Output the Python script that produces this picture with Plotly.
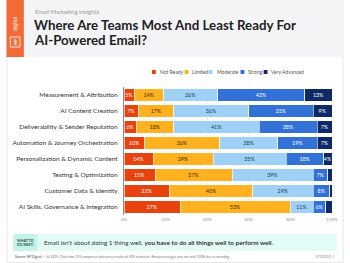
import plotly.graph_objects as go

categories = [
    "Measurement & Attribution",
    "AI Content Creation",
    "Deliverability & Sender Reputation",
    "Automation & Journey Orchestration",
    "Personalization & Dynamic Content",
    "Testing & Optimization",
    "Customer Data & Identity",
    "AI Skills, Governance & Integration",
]
series_names = ["Not Ready", "Limited", "Moderate", "Strong", "Very Advanced"]
not_ready = [5, 7, 6, 10, 14, 15, 22, 27]
limited = [14, 17, 18, 36, 29, 37, 40, 53]
moderate = [26, 36, 41, 28, 35, 39, 29, 11]
strong = [42, 31, 28, 19, 18, 7, 8, 6]
very_advanced = [13, 9, 7, 7, 4, 2, 1, 3]
x_ticks = [0, 20, 40, 60, 80, 100]
x_tick_labels = ["0%", "20%", "40%", "60%", "80%", "100%"]

series_values = [not_ready, limited, moderate, strong, very_advanced]
colors = ["#e8430f", "#ffb11f", "#9fd0f5", "#3272d6", "#0e2a66"]
text_colors = ["white", "#3a2a00", "#1d3550", "white", "white"]

W, H = 350, 263
L, R, T, B = 122, 338, 87, 215


def xp(px):
    return (px - L) / (R - L)


def yp(py):
    return (B - py) / (B - T)


FONT = "Lato"
fig = go.Figure()
for name, vals, col, tcol in zip(series_names, series_values, colors, text_colors):
    fig.add_trace(go.Bar(
        y=categories, x=vals, name=name, orientation="h",
        marker=dict(color=col, line=dict(color="white", width=0.6)),
        text=[f"{v}%" if v >= 4 else "" for v in vals],
        textposition="inside", insidetextanchor="middle", textangle=0,
        textfont=dict(size=5.3, color=tcol, family=FONT),
        showlegend=False, hoverinfo="skip",
    ))

shapes = []
annotations = []
# outer border
shapes.append(dict(type="rect", xref="paper", yref="paper", x0=xp(0.5), x1=xp(349.5),
                   y0=yp(0.5), y1=yp(262.5), line=dict(color="#e6e6e6", width=1), layer="below"))
# header background
shapes.append(dict(type="rect", xref="paper", yref="paper", x0=xp(0), x1=xp(350),
                   y0=yp(0), y1=yp(57), fillcolor="#f4f4f6", line=dict(width=0), layer="below"))
# orange strip
shapes.append(dict(type="rect", xref="paper", yref="paper", x0=xp(0), x1=xp(18),
                   y0=yp(0), y1=yp(57), fillcolor="#f26a36", line=dict(width=0), layer="below"))
shapes.append(dict(type="rect", xref="paper", yref="paper", x0=xp(4), x1=xp(14),
                   y0=yp(37), y1=yp(47), fillcolor="rgba(0,0,0,0)", line=dict(color="white", width=0.8)))
annotations.append(dict(x=xp(9), y=yp(42), xref="paper", yref="paper", text="<b>NP</b>",
                        showarrow=False, textangle=-90, xanchor="center", yanchor="middle",
                        font=dict(size=4.5, color="white", family=FONT)))
annotations.append(dict(x=xp(9), y=yp(24), xref="paper", yref="paper", text="digital",
                        showarrow=False, textangle=-90, xanchor="center", yanchor="middle",
                        font=dict(size=5.5, color="white", family=FONT)))
# subtitle and title
annotations.append(dict(x=xp(27), y=yp(11), xref="paper", yref="paper", text="Email Marketing Insights",
                        showarrow=False, xanchor="left", yanchor="middle",
                        font=dict(size=6, color="#9a9a9a", family=FONT)))
annotations.append(dict(x=xp(26), y=yp(25), xref="paper", yref="paper",
                        text="<b>Where Are Teams Most And Least Ready For</b>",
                        showarrow=False, xanchor="left", yanchor="middle",
                        font=dict(size=13.3, color="#222222", family=FONT)))
annotations.append(dict(x=xp(26), y=yp(40), xref="paper", yref="paper",
                        text="<b>AI-Powered Email?</b>",
                        showarrow=False, xanchor="left", yanchor="middle",
                        font=dict(size=13.3, color="#222222", family=FONT)))
# manual legend
leg_x = [153, 187, 212, 245, 269]
for name, col, lx in zip(series_names, colors, leg_x):
    shapes.append(dict(type="rect", xref="paper", yref="paper", x0=xp(lx - 2), x1=xp(lx + 2),
                       y0=yp(70), y1=yp(74), fillcolor=col, line=dict(width=0)))
    annotations.append(dict(x=xp(lx + 4), y=yp(72), xref="paper", yref="paper", text=name,
                            showarrow=False, xanchor="left", yanchor="middle",
                            font=dict(size=5, color="#555555", family=FONT)))
# bottom box
shapes.append(dict(type="rect", xref="paper", yref="paper", x0=xp(7), x1=xp(343),
                   y0=yp(234), y1=yp(251), fillcolor="#e3fbf6", line=dict(width=0), layer="below"))
shapes.append(dict(type="rect", xref="paper", yref="paper", x0=xp(7), x1=xp(32),
                   y0=yp(234), y1=yp(251), fillcolor="#c6f3e9", line=dict(width=0), layer="below"))
annotations.append(dict(x=xp(19.5), y=yp(240.5), xref="paper", yref="paper",
                        text="<b>WHAT TO</b>", showarrow=False, xanchor="center", yanchor="middle",
                        font=dict(size=3.6, color="#1d4a44", family=FONT)))
annotations.append(dict(x=xp(19.5), y=yp(244.5), xref="paper", yref="paper",
                        text="<b>DO NEXT:</b>", showarrow=False, xanchor="center", yanchor="middle",
                        font=dict(size=3.6, color="#1d4a44", family=FONT)))
annotations.append(dict(x=xp(37), y=yp(242.5), xref="paper", yref="paper",
                        text="Email isn't about doing 1 thing well, <b>you have to do all things well to perform well</b>.",
                        showarrow=False, xanchor="left", yanchor="middle",
                        font=dict(size=6.4, color="#333333", family=FONT)))
annotations.append(dict(x=xp(7), y=yp(257), xref="paper", yref="paper",
                        text="<b>Source: NP Digital</b> — Jul 2025. Data from 193 companies and survey results of 509 marketers. Row percentages may not total 100% due to rounding.",
                        showarrow=False, xanchor="left", yanchor="middle",
                        font=dict(size=3.3, color="#777777", family=FONT)))
annotations.append(dict(x=xp(343), y=yp(257), xref="paper", yref="paper", text="07102025_1",
                        showarrow=False, xanchor="right", yanchor="middle",
                        font=dict(size=3.3, color="#888888", family=FONT)))

fig.update_layout(
    barmode="stack", bargap=0.22,
    width=W, height=H,
    margin=dict(l=L, r=W - R, t=T, b=H - B, pad=0),
    paper_bgcolor="white", plot_bgcolor="white",
    font=dict(family=FONT),
    uniformtext=dict(minsize=5.3, mode="show"),
    shapes=shapes, annotations=annotations,
    xaxis=dict(range=[0, 100], tickvals=x_ticks, ticktext=x_tick_labels,
               tickfont=dict(size=4.5, color="#999999"), showgrid=True,
               gridcolor="#ececec", gridwidth=0.6, zeroline=False, fixedrange=True,
               ticks=""),
    yaxis=dict(categoryorder="array", categoryarray=categories[::-1],
               tickfont=dict(size=6.5, color="#333333"), showline=True,
               linecolor="#8a8a8a", linewidth=1.2, ticks="", ticklabelstandoff=4,
               fixedrange=True),
)

fig.write_html("out.html", config={"displayModeBar": False})
